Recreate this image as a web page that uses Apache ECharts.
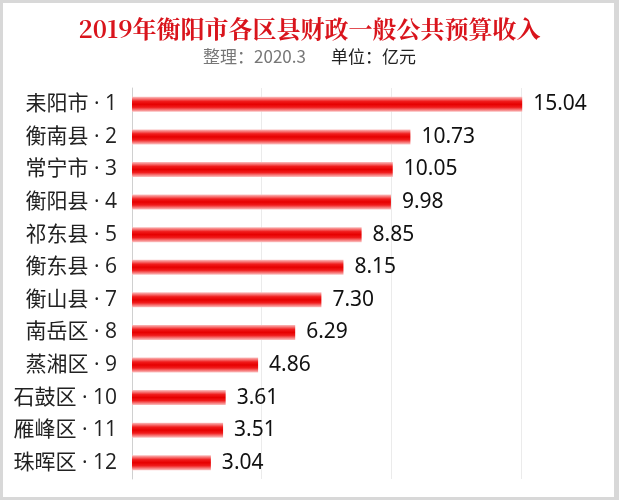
<!DOCTYPE html>
<html>
<head>
<meta charset="utf-8">
<script src="https://cdn.jsdelivr.net/npm/echarts@6/dist/echarts.min.js"></script>
<style>
html,body{margin:0;padding:0;background:#fff;}
#wrap{position:absolute;left:0;top:0;width:619px;height:500px;box-sizing:border-box;border:3px solid #d8d8d8;border-right-width:5px;}
#chart{position:absolute;left:-3px;top:-3px;width:619px;height:500px;}
</style>
</head>
<body>
<div id="wrap"><div id="chart"></div></div>
<script>
const categories = ['耒阳市 · 1','衡南县 · 2','常宁市 · 3','衡阳县 · 4','祁东县 · 5','衡东县 · 6','衡山县 · 7','南岳区 · 8','蒸湘区 · 9','石鼓区 · 10','雁峰区 · 11','珠晖区 · 12'];
const values = [15.04, 10.73, 10.05, 9.98, 8.85, 8.15, 7.30, 6.29, 4.86, 3.61, 3.51, 3.04];
const labels = ['15.04','10.73','10.05','9.98','8.85','8.15','7.30','6.29','4.86','3.61','3.51','3.04'];

const chart = echarts.init(document.getElementById('chart'));
chart.setOption({
  backgroundColor: 'transparent',
  animation: false,
  title: [{
    text: '2019年衡阳市各区县财政一般公共预算收入',
    left: 'center', top: 12,
    textStyle: {color: '#d9141c', fontSize: 24, fontWeight: 'bold', fontFamily: 'Noto Serif CJK SC, serif'}
  }, {
    text: '{a|整理：2020.3}     {b|单位：亿元}',
    left: 'center', top: 43,
    textStyle: {fontWeight: 'normal', rich: {
      a: {color: '#777', fontSize: 17, fontWeight: 'normal', fontFamily: 'Noto Sans CJK SC'},
      b: {color: '#222', fontSize: 17, fontWeight: 'normal', fontFamily: 'Noto Sans CJK SC'}
    }}
  }],
  grid: {left: 132, right: 20, top: 88, bottom: 21, containLabel: false},
  xAxis: {
    type: 'value', min: 0, max: 18, interval: 5,
    axisLabel: {show: false}, axisTick: {show: false}, axisLine: {show: false},
    splitLine: {show: true, showMinLine: false, showMaxLine: false, lineStyle: {color: '#ebebeb', width: 1}}
  },
  yAxis: {
    type: 'category', data: categories, inverse: true,
    axisTick: {show: false},
    axisLine: {show: true, lineStyle: {color: '#d0d0d0', width: 1}},
    axisLabel: {color: '#222', fontSize: 21, margin: 15, fontFamily: 'Open Sans, Noto Sans CJK SC'}
  },
  series: [{
    type: 'bar', data: values, barWidth: 15,
    itemStyle: {color: new echarts.graphic.LinearGradient(0, 0, 0, 1, [
      {offset: 0, color: '#fbc2c2'},
      {offset: 0.3, color: '#f01c1c'},
      {offset: 0.5, color: '#e60000'},
      {offset: 0.7, color: '#f01c1c'},
      {offset: 1, color: '#fbc2c2'}
    ])},
    label: {show: true, position: 'right', distance: 11, color: '#111', fontSize: 21, fontFamily: 'Noto Sans',
      formatter: p => labels[p.dataIndex]}
  }]
});
</script>
</body>
</html>
